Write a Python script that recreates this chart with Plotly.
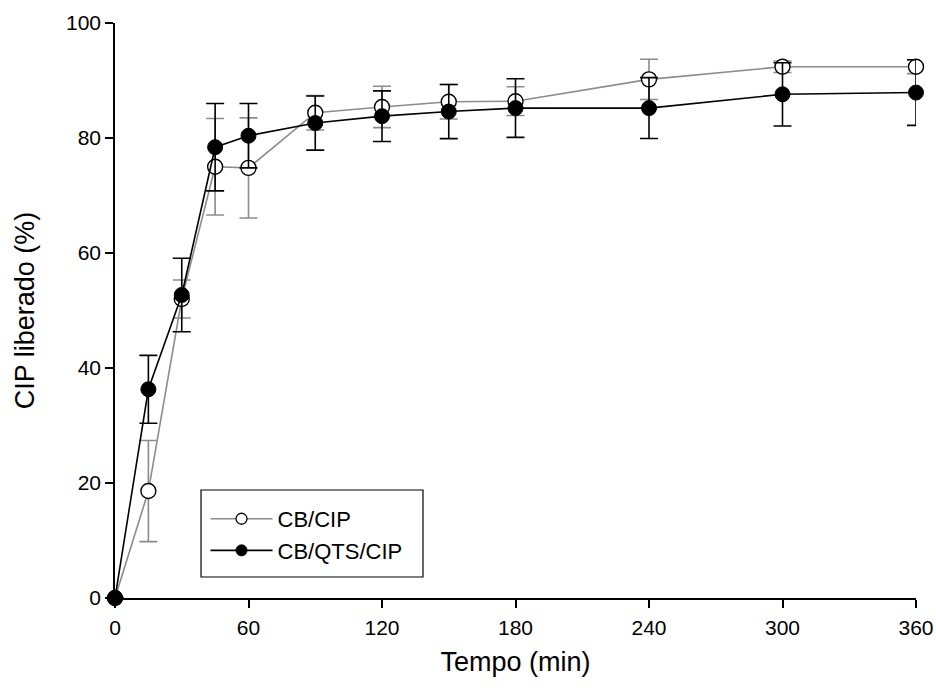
import plotly.graph_objects as go

time_min = [0, 15, 30, 45, 60, 90, 120, 150, 180, 240, 300, 360]
cb_cip = [0, 18.6, 52.0, 75.0, 74.8, 84.4, 85.4, 86.3, 86.4, 90.2, 92.4, 92.4]
cb_cip_err = [0, 8.8, 3.3, 8.4, 8.7, 3.0, 3.6, 3.0, 2.5, 3.5, 1.0, 1.2]
cb_qts_cip = [0, 36.3, 52.7, 78.4, 80.4, 82.6, 83.8, 84.6, 85.2, 85.2, 87.6, 87.9]
cb_qts_cip_err = [0, 5.9, 6.4, 7.6, 5.6, 4.7, 4.4, 4.7, 5.1, 5.3, 5.5, 5.7]
series_names = ["CB/CIP", "CB/QTS/CIP"]

x_ticks = [0, 60, 120, 180, 240, 300, 360]
y_ticks = [0, 20, 40, 60, 80, 100]

gray = "#8c8c8c"
fig = go.Figure()
fig.add_trace(go.Scatter(
    x=time_min, y=cb_cip, name=series_names[0], mode="lines+markers",
    line=dict(color=gray, width=1.6), showlegend=False,
    marker=dict(symbol="circle", size=15, color="white", line=dict(color="black", width=1.4)),
    error_y=dict(type="data", array=cb_cip_err, visible=True, color=gray, thickness=1.6, width=9),
    cliponaxis=False,
))
fig.add_trace(go.Scatter(
    x=time_min, y=cb_qts_cip, name=series_names[1], mode="lines+markers",
    line=dict(color="black", width=1.6), showlegend=False,
    marker=dict(symbol="circle", size=15, color="black", line=dict(color="black", width=1)),
    error_y=dict(type="data", array=cb_qts_cip_err, visible=True, color="black", thickness=1.6, width=9),
    cliponaxis=False,
))
# legend-only entries (smaller symbols, as in the original key)
fig.add_trace(go.Scatter(
    x=[None], y=[None], name=series_names[0], mode="lines+markers",
    line=dict(color=gray, width=1.6),
    marker=dict(symbol="circle", size=11, color="white", line=dict(color="black", width=1.3)),
))
fig.add_trace(go.Scatter(
    x=[None], y=[None], name=series_names[1], mode="lines+markers",
    line=dict(color="black", width=1.6),
    marker=dict(symbol="circle", size=11, color="black", line=dict(color="black", width=1)),
))

# legend frame (drawn as a shape so the padding matches the original)
fig.add_shape(type="rect", xref="paper", yref="paper",
              x0=0.1074, x1=0.3845, y0=0.0365, y1=0.1878,
              line=dict(color="black", width=1.2), fillcolor="white", layer="below")

fig.update_layout(
    width=936, height=690,
    margin=dict(l=115, r=20, t=23, b=92),
    plot_bgcolor="white", paper_bgcolor="white",
    font=dict(family="Liberation Sans, Arial, sans-serif", size=22, color="black"),
    showlegend=True,
    legend=dict(x=0.113, y=0.174, xanchor="left", yanchor="top",
                borderwidth=0, bgcolor="rgba(0,0,0,0)",
                font=dict(size=22), tracegroupgap=0,
                itemwidth=62),
)
fig.update_xaxes(
    range=[0, 360], tickvals=x_ticks, ticktext=[str(v) for v in x_ticks],
    showline=True, linecolor="black", linewidth=1.5, mirror=False,
    ticks="outside", ticklen=8, tickwidth=1.5, tickcolor="black",
    tickfont=dict(size=21), ticklabelstandoff=2,
    showgrid=False, zeroline=False, automargin=False,
    title=dict(text="Tempo (min)", font=dict(size=27), standoff=14),
)
fig.update_yaxes(
    range=[0, 100], tickvals=y_ticks, ticktext=[str(v) for v in y_ticks],
    showline=True, linecolor="black", linewidth=1.5, mirror=False,
    ticks="outside", ticklen=8, tickwidth=1.5, tickcolor="black",
    tickfont=dict(size=21),
    showgrid=False, zeroline=False, automargin=False,
    title=dict(text="CIP liberado (%)", font=dict(size=27), standoff=24),
)

fig.write_html("out.html")
